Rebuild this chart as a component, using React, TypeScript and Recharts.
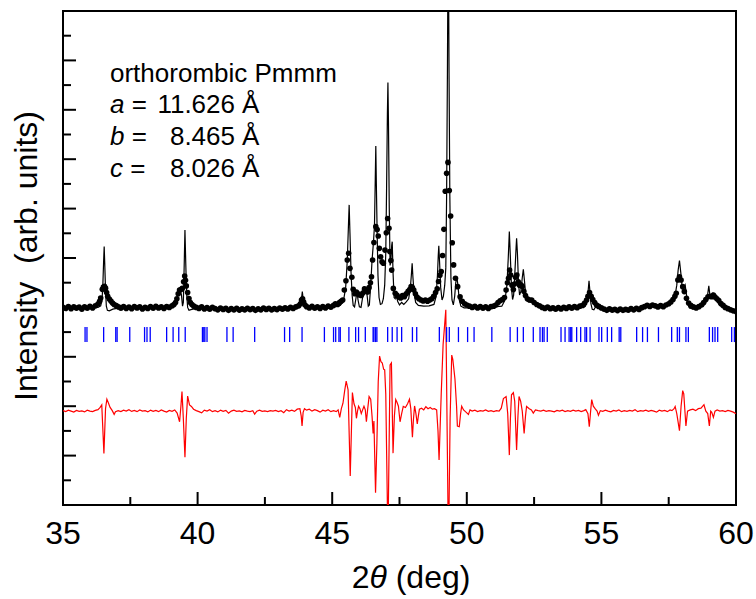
import { ComposedChart, Line, Scatter, XAxis, YAxis, ReferenceArea, Customized } from 'recharts';

// 2theta (deg), intensity (arb. units, offset)
const observed: [number, number][] = [
  [35.0, 8.0], [35.1, 7.96], [35.2, 8.03], [35.3, 7.95], [35.4, 8.02], [35.5, 7.97], [35.6, 8.01], [35.7, 7.93],
  [35.8, 8.02], [35.9, 7.97], [36.0, 8.04], [36.1, 7.98], [36.2, 8.06], [36.3, 8.14], [36.36, 8.25], [36.4, 8.38],
  [36.46, 8.73], [36.5, 8.82], [36.54, 8.85], [36.58, 8.78], [36.62, 8.6], [36.66, 8.45], [36.72, 8.34], [36.78, 8.26],
  [36.84, 8.18], [36.9, 8.12], [36.98, 8.07], [37.06, 8.02], [37.15, 7.97], [37.25, 8.03], [37.35, 7.96], [37.45, 8.01],
  [37.55, 7.95], [37.65, 8.03], [37.75, 7.98], [37.85, 8.02], [37.95, 7.94], [38.05, 8.0], [38.15, 7.96], [38.25, 8.03],
  [38.35, 7.97], [38.45, 8.04], [38.55, 7.98], [38.65, 8.02], [38.75, 7.96], [38.85, 8.03], [38.95, 8.0], [39.05, 8.06],
  [39.12, 8.12], [39.18, 8.2], [39.23, 8.35], [39.28, 8.55], [39.33, 8.7], [39.38, 8.72], [39.43, 8.77], [39.48, 9.04],
  [39.52, 9.27], [39.55, 9.1], [39.58, 8.87], [39.63, 8.6], [39.68, 8.36], [39.73, 8.2], [39.79, 8.12], [39.86, 8.05],
  [39.95, 8.0], [40.05, 7.96], [40.15, 8.02], [40.25, 7.94], [40.35, 7.99], [40.45, 7.93], [40.55, 8.0], [40.65, 7.95],
  [40.75, 7.9], [40.85, 7.97], [40.95, 7.92], [41.05, 7.96], [41.15, 7.88], [41.25, 7.95], [41.35, 7.9], [41.45, 7.96],
  [41.55, 7.89], [41.65, 7.94], [41.75, 7.9], [41.85, 7.96], [41.95, 7.91], [42.05, 7.95], [42.15, 7.88], [42.25, 7.94],
  [42.35, 7.9], [42.45, 7.97], [42.55, 7.92], [42.65, 7.96], [42.75, 7.9], [42.85, 7.95], [42.95, 7.91], [43.05, 7.97],
  [43.15, 7.93], [43.25, 7.98], [43.35, 7.94], [43.45, 8.0], [43.55, 7.96], [43.65, 8.02], [43.75, 8.06], [43.82, 8.15],
  [43.86, 8.3], [43.9, 8.35], [43.94, 8.22], [43.99, 8.1], [44.05, 8.03], [44.15, 7.98], [44.25, 8.04], [44.35, 7.97],
  [44.45, 8.02], [44.55, 7.96], [44.65, 8.03], [44.75, 7.98], [44.85, 8.05], [44.95, 8.01], [45.05, 8.08], [45.12, 8.15],
  [45.2, 8.12], [45.27, 8.2], [45.33, 8.25], [45.39, 8.3], [45.45, 8.7], [45.51, 9.08], [45.56, 9.92], [45.61, 10.19],
  [45.66, 9.58], [45.73, 9.22], [45.78, 8.73], [45.84, 8.55], [45.9, 8.62], [45.96, 8.55], [46.02, 8.5], [46.08, 8.48],
  [46.14, 8.58], [46.2, 8.75], [46.26, 8.68], [46.32, 8.62], [46.37, 8.8], [46.42, 9.0], [46.46, 9.24], [46.5, 9.92],
  [46.55, 10.63], [46.62, 11.27], [46.67, 11.15], [46.71, 10.89], [46.75, 10.39], [46.8, 10.05], [46.85, 9.85], [46.9, 9.79],
  [46.96, 10.32], [47.01, 11.02], [47.06, 11.6], [47.11, 11.2], [47.14, 10.26], [47.18, 9.9], [47.21, 9.51], [47.27, 8.77],
  [47.34, 8.57], [47.4, 8.5], [47.47, 8.42], [47.54, 8.38], [47.61, 8.48], [47.68, 8.43], [47.75, 8.55], [47.82, 8.65],
  [47.88, 8.72], [47.93, 8.84], [47.98, 8.8], [48.03, 8.7], [48.09, 8.55], [48.15, 8.42], [48.22, 8.35], [48.3, 8.3],
  [48.38, 8.26], [48.46, 8.3], [48.54, 8.25], [48.62, 8.3], [48.7, 8.35], [48.77, 8.45], [48.84, 8.6], [48.9, 8.75],
  [48.95, 9.05], [49.0, 9.3], [49.05, 9.45], [49.1, 10.1], [49.15, 11.16], [49.2, 12.7], [49.25, 13.43], [49.3, 13.87],
  [49.35, 12.73], [49.4, 11.7], [49.46, 10.62], [49.51, 9.72], [49.58, 9.18], [49.66, 8.84], [49.75, 8.43], [49.83, 8.25],
  [49.92, 8.15], [50.0, 8.1], [50.1, 8.05], [50.2, 8.0], [50.3, 8.04], [50.4, 7.98], [50.5, 8.03], [50.6, 7.97],
  [50.7, 8.02], [50.8, 7.96], [50.9, 8.03], [51.0, 8.05], [51.08, 8.1], [51.16, 8.2], [51.24, 8.27], [51.32, 8.32],
  [51.4, 8.4], [51.46, 8.7], [51.51, 9.0], [51.55, 9.18], [51.59, 9.51], [51.63, 9.31], [51.68, 8.9], [51.73, 8.72],
  [51.77, 8.95], [51.81, 9.22], [51.86, 9.31], [51.91, 9.04], [51.96, 8.9], [52.01, 8.92], [52.06, 8.85], [52.12, 8.65],
  [52.18, 8.48], [52.25, 8.35], [52.33, 8.3], [52.41, 8.3], [52.5, 8.2], [52.6, 8.12], [52.7, 8.06], [52.8, 8.0],
  [52.9, 7.96], [53.0, 8.01], [53.1, 7.95], [53.2, 7.98], [53.3, 7.93], [53.4, 7.99], [53.5, 7.94], [53.6, 8.0],
  [53.7, 7.96], [53.8, 8.02], [53.9, 7.97], [54.0, 8.03], [54.1, 7.99], [54.2, 8.05], [54.3, 8.08], [54.38, 8.18],
  [54.45, 8.3], [54.5, 8.45], [54.56, 8.6], [54.62, 8.45], [54.68, 8.32], [54.75, 8.2], [54.82, 8.1], [54.9, 8.04],
  [55.0, 7.98], [55.1, 7.93], [55.2, 7.88], [55.3, 7.94], [55.4, 7.89], [55.5, 7.92], [55.6, 7.87], [55.7, 7.93],
  [55.8, 7.88], [55.9, 7.92], [56.0, 7.89], [56.1, 7.95], [56.2, 7.9], [56.3, 7.96], [56.4, 7.92], [56.5, 7.99],
  [56.6, 8.03], [56.7, 8.08], [56.8, 8.04], [56.9, 8.1], [57.0, 8.06], [57.1, 8.02], [57.2, 8.07], [57.3, 8.03],
  [57.4, 8.1], [57.5, 8.15], [57.58, 8.22], [57.66, 8.32], [57.73, 8.45], [57.78, 8.57], [57.84, 9.11], [57.9, 9.24],
  [57.96, 9.11], [58.02, 8.84], [58.08, 8.64], [58.16, 8.37], [58.24, 8.18], [58.32, 8.08], [58.42, 8.02], [58.52, 7.98],
  [58.62, 8.03], [58.72, 8.1], [58.8, 8.2], [58.88, 8.32], [58.96, 8.43], [59.04, 8.45], [59.1, 8.43], [59.16, 8.5],
  [59.22, 8.42], [59.29, 8.35], [59.36, 8.28], [59.44, 8.16], [59.52, 8.08], [59.6, 8.0], [59.7, 7.95], [59.8, 7.9],
  [59.9, 7.86], [60.0, 7.83],
];

const calculated: [number, number][] = [
  [35.0, 7.98], [35.5, 7.98], [36.0, 7.99], [36.3, 8.0], [36.4, 8.06], [36.45, 8.3], [36.48, 8.9], [36.51, 9.9],
  [36.53, 10.46], [36.55, 9.8], [36.58, 8.7], [36.61, 8.05], [36.65, 7.88], [36.72, 7.86], [36.85, 7.93], [37.1, 7.98],
  [38.5, 7.99], [39.1, 8.02], [39.2, 8.15], [39.26, 8.45], [39.3, 8.72], [39.35, 8.75], [39.4, 8.5], [39.44, 8.05],
  [39.47, 8.2], [39.5, 9.6], [39.53, 11.13], [39.56, 9.8], [39.59, 8.6], [39.63, 8.0], [39.68, 7.88], [39.78, 7.92],
  [40.0, 7.96], [42.0, 7.92], [43.7, 7.97], [43.82, 8.05], [43.86, 8.35], [43.89, 8.64], [43.92, 8.35], [43.96, 8.05],
  [44.05, 7.99], [45.0, 8.02], [45.3, 8.08], [45.42, 8.28], [45.5, 8.8], [45.56, 9.9], [45.6, 11.2], [45.63, 12.15],
  [45.66, 11.0], [45.7, 9.4], [45.74, 8.5], [45.78, 8.08], [45.83, 8.02], [45.88, 8.35], [45.92, 8.64], [45.96, 8.3],
  [46.01, 8.02], [46.07, 8.0], [46.13, 8.4], [46.18, 8.84], [46.22, 8.55], [46.26, 8.75], [46.3, 8.45], [46.34, 8.05],
  [46.38, 8.1], [46.43, 8.9], [46.48, 9.9], [46.53, 10.6], [46.57, 11.3], [46.6, 13.2], [46.62, 14.53], [46.64, 13.0],
  [46.67, 11.0], [46.7, 9.3], [46.74, 8.4], [46.79, 8.12], [46.85, 8.15], [46.9, 8.35], [46.95, 8.9], [46.99, 10.2],
  [47.02, 12.8], [47.05, 15.8], [47.07, 17.1], [47.09, 15.5], [47.12, 12.0], [47.15, 9.7], [47.18, 9.9], [47.21, 10.5],
  [47.23, 10.66], [47.26, 9.4], [47.3, 8.4], [47.34, 8.35], [47.38, 8.55], [47.43, 8.25], [47.5, 8.1], [47.58, 8.2],
  [47.66, 8.12], [47.75, 8.22], [47.84, 8.35], [47.9, 8.75], [47.94, 9.3], [47.97, 9.79], [48.0, 9.2], [48.04, 8.6],
  [48.1, 8.2], [48.2, 8.08], [48.4, 8.05], [48.6, 8.06], [48.78, 8.12], [48.86, 8.45], [48.91, 9.3], [48.94, 10.1],
  [48.96, 10.49], [48.99, 9.8], [49.03, 8.8], [49.08, 8.3], [49.13, 8.45], [49.18, 8.9], [49.22, 9.6], [49.25, 12.5],
  [49.28, 17.5], [49.31, 24.0], [49.34, 17.5], [49.37, 12.5], [49.41, 9.2], [49.45, 8.3], [49.5, 8.1], [49.55, 8.45],
  [49.59, 9.0], [49.63, 9.24], [49.67, 8.9], [49.72, 8.3], [49.78, 8.05], [49.9, 7.98], [50.5, 7.98], [51.0, 8.02],
  [51.3, 8.05], [51.42, 8.3], [51.49, 8.9], [51.54, 10.0], [51.58, 11.07], [51.62, 10.0], [51.66, 8.8], [51.7, 8.32],
  [51.74, 8.5], [51.79, 9.5], [51.83, 10.4], [51.85, 10.8], [51.88, 10.2], [51.92, 9.0], [51.96, 8.5], [52.01, 8.65],
  [52.06, 9.2], [52.1, 9.54], [52.14, 9.1], [52.19, 8.5], [52.25, 8.25], [52.35, 8.22], [52.45, 8.2], [52.55, 8.12],
  [52.7, 8.04], [52.9, 7.98], [54.2, 8.0], [54.4, 8.04], [54.47, 8.3], [54.51, 8.7], [54.54, 9.08], [54.57, 8.7],
  [54.61, 8.15], [54.66, 7.92], [54.72, 7.9], [54.78, 8.02], [54.86, 7.98], [55.0, 7.94], [56.0, 7.92], [56.6, 8.0],
  [57.2, 8.04], [57.5, 8.1], [57.65, 8.25], [57.74, 8.5], [57.8, 8.9], [57.85, 9.5], [57.9, 9.9], [57.95, 9.4],
  [58.0, 8.8], [58.04, 8.7], [58.08, 8.85], [58.11, 8.91], [58.15, 8.6], [58.2, 8.2], [58.27, 7.98], [58.4, 7.94],
  [58.6, 7.97], [58.8, 8.08], [58.9, 8.25], [58.95, 8.55], [58.99, 8.87], [59.03, 8.5], [59.07, 8.38], [59.11, 8.48],
  [59.14, 8.6], [59.18, 8.42], [59.23, 8.38], [59.26, 8.45], [59.31, 8.22], [59.4, 8.08], [59.6, 7.98], [59.8, 7.9],
  [60.0, 7.85],
];

const difference: [number, number][] = [
  [35.0, 3.82], [35.1, 3.78], [35.2, 3.84], [35.3, 3.8], [35.4, 3.76], [35.5, 3.83], [35.6, 3.79], [35.7, 3.81],
  [35.8, 3.77], [35.9, 3.84], [36.0, 3.8], [36.1, 3.78], [36.2, 3.83], [36.3, 3.86], [36.38, 3.95], [36.44, 4.05],
  [36.52, 2.09], [36.58, 3.9], [36.63, 4.28], [36.68, 4.15], [36.75, 3.95], [36.83, 3.82], [36.9, 3.67], [36.95, 3.78],
  [37.05, 3.82], [37.15, 3.78], [37.25, 3.84], [37.35, 3.8], [37.45, 3.86], [37.55, 3.79], [37.65, 3.83], [37.75, 3.78],
  [37.85, 3.85], [37.95, 3.8], [38.05, 3.82], [38.15, 3.77], [38.25, 3.84], [38.35, 3.79], [38.45, 3.83], [38.55, 3.78],
  [38.65, 3.85], [38.75, 3.8], [38.85, 3.76], [38.95, 3.83], [39.05, 3.79], [39.15, 3.85], [39.24, 3.72], [39.33, 3.37],
  [39.38, 4.0], [39.42, 4.59], [39.47, 3.5], [39.53, 1.93], [39.58, 3.5], [39.63, 4.41], [39.7, 4.05], [39.77, 3.99],
  [39.85, 3.88], [39.95, 3.82], [40.05, 3.78], [40.15, 3.73], [40.25, 3.84], [40.35, 3.8], [40.45, 3.86], [40.55, 3.78],
  [40.65, 3.82], [40.75, 3.77], [40.85, 3.84], [40.95, 3.79], [41.05, 3.83], [41.15, 3.72], [41.25, 3.8], [41.35, 3.84],
  [41.45, 3.79], [41.55, 3.81], [41.65, 3.77], [41.75, 3.83], [41.85, 3.8], [41.95, 3.78], [42.05, 3.82], [42.12, 3.68],
  [42.2, 3.8], [42.3, 3.84], [42.4, 3.79], [42.5, 3.81], [42.6, 3.78], [42.7, 3.82], [42.8, 3.8], [42.9, 3.83],
  [43.0, 3.78], [43.1, 3.82], [43.2, 3.74], [43.3, 3.86], [43.4, 3.8], [43.5, 3.84], [43.6, 3.79], [43.7, 3.88],
  [43.8, 3.9], [43.85, 3.6], [43.88, 3.2], [43.92, 3.75], [43.97, 3.9], [44.05, 3.84], [44.15, 3.88], [44.25, 3.8],
  [44.35, 3.86], [44.45, 3.82], [44.55, 3.76], [44.65, 3.84], [44.75, 3.8], [44.85, 3.86], [44.95, 3.78], [45.05, 3.82],
  [45.15, 3.78], [45.22, 3.85], [45.28, 3.55], [45.34, 3.9], [45.4, 4.12], [45.46, 4.6], [45.52, 5.02], [45.59, 4.66],
  [45.67, 1.17], [45.75, 4.55], [45.81, 4.1], [45.86, 3.95], [45.9, 3.51], [45.94, 3.8], [45.98, 4.0], [46.03, 3.9],
  [46.08, 3.7], [46.13, 3.85], [46.18, 4.0], [46.23, 3.85], [46.27, 3.37], [46.32, 3.9], [46.37, 4.39], [46.43, 4.28],
  [46.48, 3.6], [46.52, 2.9], [46.55, 3.4], [46.61, 0.5], [46.66, 2.5], [46.71, 5.0], [46.76, 6.03], [46.81, 5.8],
  [46.86, 5.75], [46.91, 5.5], [46.95, 5.47], [46.99, 4.5], [47.07, -1.5], [47.15, 5.67], [47.2, 5.75], [47.26, 2.1],
  [47.31, 3.6], [47.36, 4.27], [47.41, 4.15], [47.46, 4.0], [47.52, 3.37], [47.58, 3.7], [47.64, 3.99], [47.72, 3.95],
  [47.8, 4.1], [47.87, 4.28], [47.92, 3.9], [47.98, 2.74], [48.02, 3.5], [48.06, 4.01], [48.11, 3.7], [48.16, 3.28],
  [48.2, 3.6], [48.24, 3.88], [48.32, 3.92], [48.4, 3.85], [48.48, 3.98], [48.56, 3.9], [48.64, 3.95], [48.72, 3.88],
  [48.8, 3.9], [48.88, 3.85], [48.93, 3.0], [48.97, 1.82], [49.05, 4.5], [49.12, 6.5], [49.22, 7.9], [49.27, 3.0],
  [49.32, -2.0], [49.38, 3.5], [49.44, 6.07], [49.48, 5.9], [49.56, 5.1], [49.62, 4.0], [49.65, 3.2], [49.72, 3.17],
  [49.77, 3.7], [49.81, 4.0], [49.88, 3.85], [49.95, 3.78], [50.06, 3.67], [50.12, 3.85], [50.2, 3.8], [50.3, 3.84],
  [50.4, 3.78], [50.5, 3.82], [50.6, 3.8], [50.7, 3.85], [50.8, 3.79], [50.9, 3.82], [51.0, 3.78], [51.1, 3.82],
  [51.2, 3.8], [51.28, 3.92], [51.36, 4.31], [51.46, 4.39], [51.52, 3.7], [51.58, 2.02], [51.62, 3.5], [51.66, 4.46],
  [51.73, 4.55], [51.78, 4.2], [51.85, 2.23], [51.9, 3.6], [51.94, 4.39], [52.0, 4.2], [52.06, 3.8], [52.13, 2.9],
  [52.18, 3.6], [52.22, 3.99], [52.32, 3.9], [52.4, 3.85], [52.47, 3.72], [52.55, 3.85], [52.65, 3.82], [52.75, 3.8],
  [52.85, 3.84], [52.95, 3.79], [53.05, 3.82], [53.15, 3.8], [53.25, 3.77], [53.35, 3.83], [53.45, 3.8], [53.55, 3.84],
  [53.65, 3.78], [53.75, 3.82], [53.85, 3.79], [53.95, 3.84], [54.05, 3.8], [54.15, 3.83], [54.25, 3.78], [54.35, 3.82],
  [54.42, 3.86], [54.5, 3.7], [54.55, 3.17], [54.6, 3.8], [54.64, 4.27], [54.7, 4.0], [54.78, 3.88], [54.84, 3.8],
  [54.89, 3.63], [54.96, 3.82], [55.05, 3.79], [55.15, 3.84], [55.25, 3.8], [55.35, 3.77], [55.45, 3.83], [55.55, 3.8],
  [55.65, 3.85], [55.75, 3.78], [55.85, 3.82], [55.95, 3.79], [56.05, 3.83], [56.15, 3.8], [56.25, 3.86], [56.35, 3.78],
  [56.45, 3.82], [56.55, 3.8], [56.65, 3.84], [56.75, 3.79], [56.85, 3.83], [56.95, 3.8], [57.05, 3.76], [57.15, 3.84],
  [57.25, 3.8], [57.35, 3.83], [57.45, 3.78], [57.55, 3.85], [57.62, 3.82], [57.7, 3.9], [57.74, 3.99], [57.8, 3.7],
  [57.9, 3.01], [57.96, 4.0], [58.02, 4.63], [58.06, 4.5], [58.14, 3.2], [58.2, 3.8], [58.3, 3.85], [58.4, 3.88],
  [58.5, 3.82], [58.6, 3.9], [58.7, 3.92], [58.81, 4.06], [58.88, 3.8], [58.95, 3.7], [59.01, 3.2], [59.06, 3.8],
  [59.1, 3.75], [59.16, 3.55], [59.22, 3.8], [59.3, 3.85], [59.4, 3.8], [59.5, 3.82], [59.6, 3.78], [59.7, 3.83],
  [59.8, 3.8], [59.9, 3.76], [60.0, 3.7],
];

const braggPositions = [
  35.82, 35.89, 36.51, 36.96, 37.01, 37.48, 38.03, 38.12, 38.24, 38.85, 39.09, 39.3, 39.54, 40.18, 40.23, 40.27,
  40.35, 41.09, 41.32, 42.12, 43.23, 43.42, 43.88, 44.71, 45.05, 45.13, 45.25, 45.3, 45.62, 45.87, 45.98, 46.23,
  46.52, 46.55, 46.61, 46.66, 47.06, 47.23, 47.41, 47.58, 47.98, 48.14, 48.98, 49.25, 49.35, 49.69, 50.03, 50.27,
  50.93, 51.61, 51.88, 52.1, 52.47, 52.72, 52.81, 52.87, 52.99, 53.5, 53.65, 53.8, 53.86, 53.9, 54.08, 54.23,
  54.39, 54.45, 54.58, 54.91, 55.01, 55.22, 55.38, 55.66, 55.72, 56.31, 56.53, 56.71, 57.12, 57.61, 57.82, 57.9,
  58.14, 58.23, 59.01, 59.13, 59.22, 59.32, 59.84, 59.94,
];
const braggLevel = 6.9;

const xTicks = [35, 37.5, 40, 42.5, 45, 47.5, 50, 52.5, 55, 57.5, 60];
const yTicks = [0, 1, 2, 3, 4, 5, 6, 7, 8, 9, 10, 11, 12, 13, 14, 15, 16, 17, 18, 19, 20];

const cellParams = [
  { name: 'a', value: '11.626' },
  { name: 'b', value: '8.465' },
  { name: 'c', value: '8.026' },
];

const FONT = 'Liberation Sans, Arial, Helvetica, sans-serif';

const toPoints = (rows: [number, number][]) => rows.map(([x, y]) => ({ x, y }));

const XTick = (props: any) => {
  const { x, y, payload } = props;
  const major = payload.value % 5 === 0;
  return (
    <g>
      <line x1={x} x2={x} y1={y} y2={y - (major ? 13 : 8)} stroke="#000" strokeWidth={2} />
      {major && (
        <text x={x} y={y + 39} textAnchor="middle" fontSize={32} fontFamily={FONT} fill="#000">
          {payload.value}
        </text>
      )}
    </g>
  );
};

const YTick = (props: any) => {
  const { x, y, payload } = props;
  const len = payload.value % 2 === 0 ? 13 : 8;
  return <line x1={x} x2={x + len} y1={y} y2={y} stroke="#000" strokeWidth={2} />;
};

const Dot = (props: any) => <circle cx={props.cx} cy={props.cy} r={2.8} fill="#000" />;

const BraggMark = (props: any) => (
  <line x1={props.cx} x2={props.cx} y1={props.cy - 7.5} y2={props.cy + 7.5} stroke="#0000ff" strokeWidth={1.3} />
);

const Texts = () => (
  <g fontFamily={FONT} fill="#000">
    <text x={110} y={82} fontSize={26}>orthorombic Pmmm</text>
    {cellParams.map((p, i) => (
      <g key={p.name}>
        <text x={110} y={113 + i * 32} fontSize={26}>
          <tspan fontStyle="italic">{p.name}</tspan> =
        </text>
        <text x={235} y={113 + i * 32} fontSize={26} textAnchor="end">{p.value}</text>
        <text x={242} y={113 + i * 32} fontSize={26}>Å</text>
      </g>
    ))}
    <text x={37} y={256} fontSize={32} textAnchor="middle" transform="rotate(-90 37 256)">
      {'Intensity\u00a0\u00a0(arb. units)'}
    </text>
    <text x={411} y={588} fontSize={32} textAnchor="middle">
      2<tspan fontStyle="italic">θ</tspan>{'\u00a0(deg)'}
    </text>
  </g>
);

export default function App() {
  const obs = toPoints(observed);
  const calc = toPoints(calculated);
  const diff = toPoints(difference);
  const bragg = braggPositions.map((x) => ({ x, y: braggLevel }));

  return (
    <div style={{ position: 'absolute', left: 0, top: 0, background: '#fff' }}>
      <ComposedChart width={756} height={599} margin={{ top: 11, right: 20, left: 0, bottom: 0 }}>
        <XAxis
          type="number"
          dataKey="x"
          domain={[35, 60]}
          ticks={xTicks}
          interval={0}
          allowDataOverflow
          height={94}
          tickSize={0}
          tickMargin={0}
          tickLine={false}
          axisLine={false}
          tick={<XTick />}
        />
        <YAxis
          type="number"
          dataKey="y"
          domain={[0, 20]}
          ticks={yTicks}
          interval={0}
          allowDataOverflow
          width={63}
          tickSize={0}
          tickMargin={0}
          tickLine={false}
          axisLine={false}
          tick={<YTick />}
        />
        <Scatter data={obs} shape={<Dot />} isAnimationActive={false} />
        <Line data={calc} dataKey="y" type="linear" stroke="#000" strokeWidth={1.2} dot={false} isAnimationActive={false} />
        <Scatter data={bragg} shape={<BraggMark />} isAnimationActive={false} />
        <Line data={diff} dataKey="y" type="linear" stroke="#ff0000" strokeWidth={1.2} dot={false} isAnimationActive={false} />
        <ReferenceArea x1={35} x2={60} y1={0} y2={20} fill="none" stroke="#000" strokeWidth={2} fillOpacity={0} />
        <Customized component={Texts} />
      </ComposedChart>
    </div>
  );
}
